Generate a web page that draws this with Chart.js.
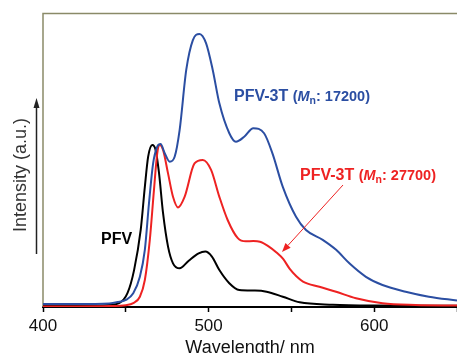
<!DOCTYPE html>
<html>
<head>
<meta charset="utf-8">
<script src="https://cdn.jsdelivr.net/npm/chart.js@4/dist/chart.umd.min.js"></script>
<style>
  body { margin: 0; background: #fff; }
  #wrap { width: 457px; height: 353px; }
</style>
</head>
<body>
<div id="wrap"><canvas id="plChart" width="457" height="353"></canvas></div>
<script>
// PL spectra, intensity in arbitrary units (0-100)
const xTicks = [400, 450, 500, 550, 600, 650];

const pfvX = [400, 420, 440, 446, 451, 455, 459, 461.5, 463.5, 466, 468, 470, 472.5, 475.5, 478.5, 482.5, 488, 494, 498, 502, 506.5, 512.5, 518.5, 528, 535, 544.8, 555, 575, 600, 650];
const pfvY = [0.4, 0.4, 0.7, 1.3, 4.7, 12.6, 26.3, 41, 51.3, 55.3, 53.6, 46, 32, 20.6, 14.9, 13.2, 15.8, 18.3, 18.9, 17.2, 12.6, 8.1, 5.8, 5.6, 5.2, 3.5, 1.6, 0.8, 0.5, 0.4];

const lowX = [400, 420, 440, 446, 450, 454.5, 458.5, 461.5, 464, 466.5, 469, 471, 473.5, 476.5, 479.5, 482.5, 486.5, 490.5, 494.5, 498.5, 502.5, 506.5, 512.5, 516.5, 521.5, 527, 533.5, 538.5, 544.8, 552.8, 558.8, 568.9, 577, 585, 595, 605, 619, 633, 650];
const lowY = [1.0, 1.0, 1.2, 1.8, 2.4, 4.7, 10.3, 19.5, 35.4, 49, 54.7, 55.6, 52.5, 49.6, 51.3, 60.4, 80.9, 91.1, 93.2, 90, 80.9, 69.5, 59.3, 56.4, 58.1, 61, 59.3, 52.5, 41, 30.8, 26.3, 22.9, 19.5, 14.9, 10.3, 7.5, 5.2, 3.5, 2.2];

const highX = [400, 420, 440, 450, 454.5, 458.5, 461.5, 464.5, 467, 469, 470.5, 472.5, 475.5, 478.5, 481.5, 485.5, 491.5, 496.5, 501.5, 506.5, 511.5, 517.5, 522.5, 527, 531, 536, 541, 545, 549, 553, 557, 566.9, 577, 589, 605, 625, 650];
const highY = [0.2, 0.2, 0.3, 0.6, 1.3, 3.5, 9.2, 22.9, 39.9, 52.5, 55.3, 53.6, 45.6, 37.6, 34, 37.6, 49, 50.2, 46.8, 37.6, 29.7, 23.6, 22.4, 22.5, 22.3, 20.8, 18.6, 16.4, 13, 10.5, 8.7, 6.9, 5.2, 3.0, 1.3, 0.7, 0.5];

const FONT = "'Liberation Sans', Arial, Helvetica, sans-serif";
const BLUE = '#2b4ea2';
const RED = '#ee2222';

function toPoints(xs, ys) {
    return xs.map((x, i) => ({ x: x, y: ys[i] }));
}

// draw text pieces one after another (for the italic M with subscript n)
function drawPieces(ctx, x, y, pieces, color) {
    ctx.fillStyle = color;
    ctx.textBaseline = 'alphabetic';
    ctx.textAlign = 'left';
    pieces.forEach(p => {
        ctx.font = (p.style || '') + ' bold ' + p.size + 'px ' + FONT;
        ctx.fillText(p.t, x, y + (p.dy || 0));
        x += ctx.measureText(p.t).width;
    });
}

function label(ctx, x, y, num, color) {
    drawPieces(ctx, x, y, [
        { t: 'PFV-3T ', size: 16 },
        { t: '(', size: 14.5 },
        { t: 'M', size: 14.5, style: 'italic' },
        { t: 'n', size: 10.5, dy: 3 },
        { t: ': ' + num + ')', size: 14.5 }
    ], color);
}

function arrow(ctx, x1, y1, x2, y2, color, lw, headLen, headW) {
    const ang = Math.atan2(y2 - y1, x2 - x1);
    const bx = x2 - headLen * Math.cos(ang);
    const by = y2 - headLen * Math.sin(ang);
    ctx.strokeStyle = color;
    ctx.fillStyle = color;
    ctx.lineWidth = lw;
    ctx.beginPath();
    ctx.moveTo(x1, y1);
    ctx.lineTo(bx, by);
    ctx.stroke();
    ctx.beginPath();
    ctx.moveTo(x2, y2);
    ctx.lineTo(bx + headW / 2 * Math.sin(ang), by - headW / 2 * Math.cos(ang));
    ctx.lineTo(bx - headW / 2 * Math.sin(ang), by + headW / 2 * Math.cos(ang));
    ctx.closePath();
    ctx.fill();
}

const decor = {
    id: 'decor',
    beforeDatasetsDraw(chart) {
        const ctx = chart.ctx;
        const a = chart.chartArea;
        ctx.save();
        // frame on left and top
        ctx.strokeStyle = '#8a8a68';
        ctx.lineWidth = 1.5;
        ctx.beginPath();
        ctx.moveTo(a.left, a.bottom);
        ctx.lineTo(a.left, a.top - 0.5);
        ctx.lineTo(a.right, a.top - 0.5);
        ctx.stroke();
        ctx.restore();
    },
    afterDraw(chart) {
        const ctx = chart.ctx;
        ctx.save();
        // y axis arrow + title
        arrow(ctx, 36.5, 254, 36.5, 98, '#222', 1.5, 10, 6);
        ctx.save();
        ctx.translate(21, 175);
        ctx.rotate(-Math.PI / 2);
        ctx.font = '18px ' + FONT;
        ctx.fillStyle = '#333';
        ctx.textAlign = 'center';
        ctx.textBaseline = 'middle';
        ctx.fillText('Intensity (a.u.)', 0, 0);
        ctx.restore();

        // series labels
        label(ctx, 234, 101, '17200', BLUE);
        label(ctx, 300, 180, '27700', RED);
        ctx.font = 'bold 16px ' + FONT;
        ctx.fillStyle = '#000';
        ctx.textAlign = 'left';
        ctx.fillText('PFV', 101, 244);

        // red pointer
        arrow(ctx, 343, 185, 282, 252, RED, 1, 9, 7);
        ctx.restore();
    }
};

const ctx = document.getElementById('plChart').getContext('2d');
new Chart(ctx, {
    type: 'line',
    data: {
        datasets: [
            { label: 'PFV-3T (Mn: 17200)', data: toPoints(lowX, lowY), borderColor: BLUE },
            { label: 'PFV-3T (Mn: 27700)', data: toPoints(highX, highY), borderColor: RED },
            { label: 'PFV', data: toPoints(pfvX, pfvY), borderColor: '#000' }
        ].map(d => Object.assign(d, {
            borderWidth: 2,
            pointRadius: 0,
            fill: false,
            cubicInterpolationMode: 'monotone'
        }))
    },
    options: {
        responsive: false,
        animation: false,
        layout: { padding: { left: 43, top: 14, right: 0, bottom: 0 } },
        plugins: {
            legend: { display: false },
            tooltip: { enabled: false }
        },
        scales: {
            x: {
                type: 'linear',
                min: 400,
                max: 650,
                afterBuildTicks: s => { s.ticks = xTicks.map(v => ({ value: v })); },
                afterFit: s => { s.height = 46; s.paddingRight = 0; s.paddingLeft = 0; },
                ticks: {
                    callback: v => (v % 100 === 0 ? String(v) : ''),
                    font: { size: 17, family: FONT },
                    color: '#111',
                    padding: 4,
                    maxRotation: 0,
                    autoSkip: false
                },
                grid: { drawOnChartArea: false, drawTicks: true, tickLength: 5, color: '#000', tickWidth: 1.5 },
                border: { color: '#000', width: 2 },
                title: {
                    display: true,
                    text: 'Wavelength/ nm',
                    font: { size: 18, family: FONT, lineHeight: 0.5 },
                    color: '#111',
                    padding: 0
                }
            },
            y: { display: false, min: 0, max: 100 }
        }
    },
    plugins: [decor]
});
</script>
</body>
</html>
